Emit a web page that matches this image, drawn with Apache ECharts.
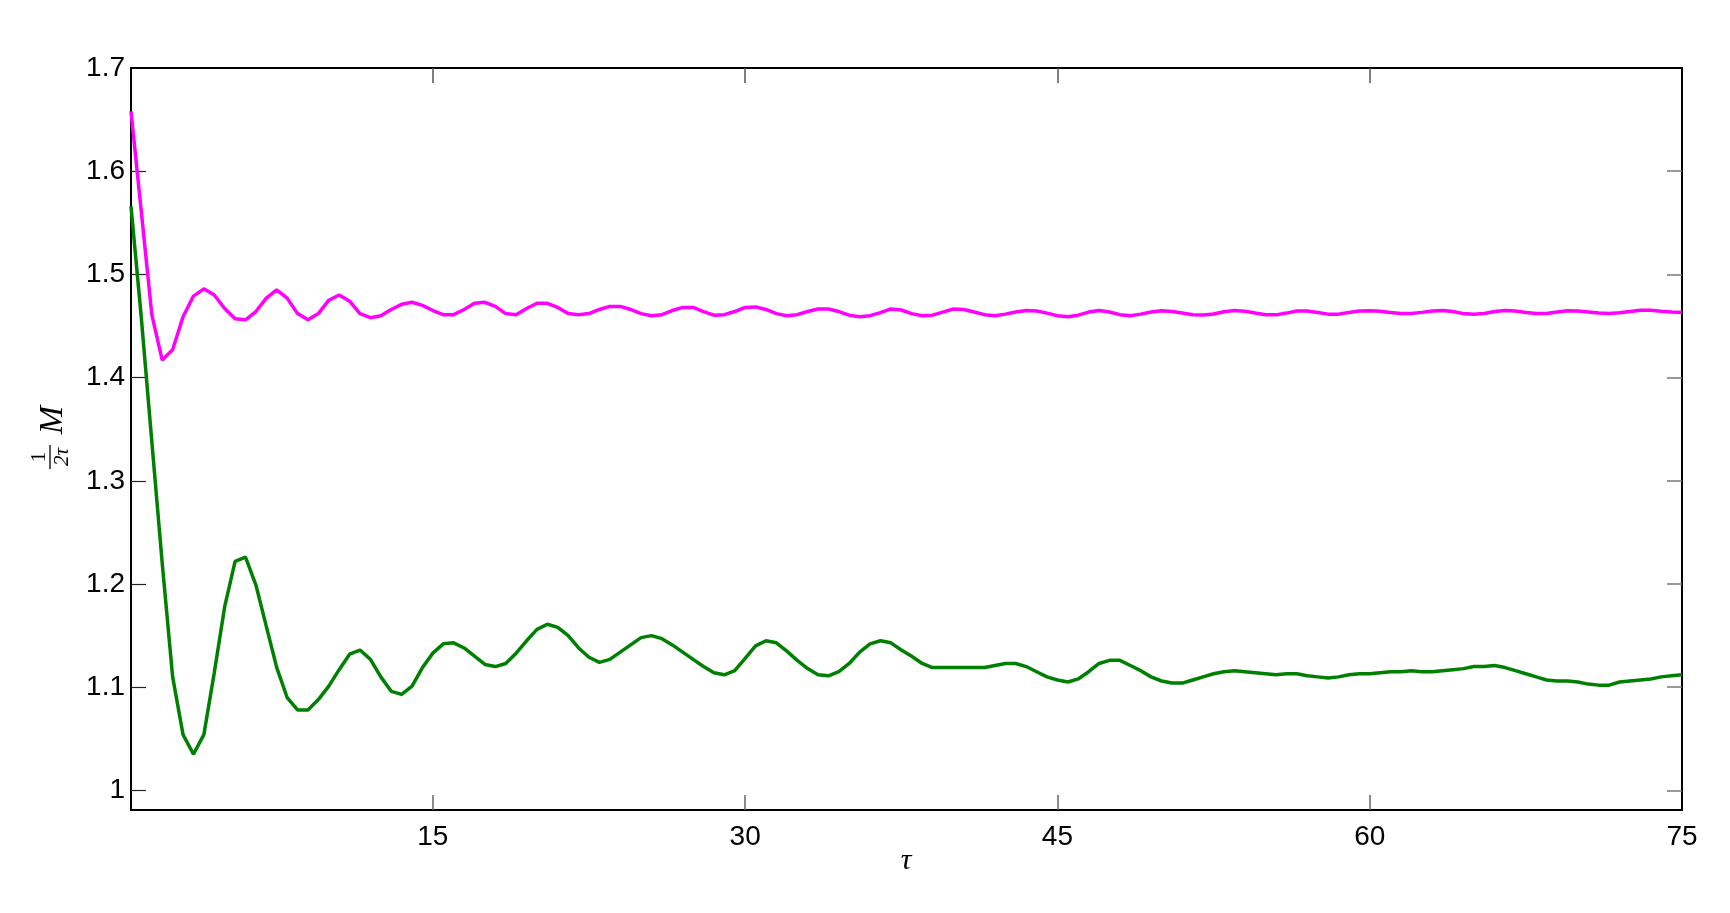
<!DOCTYPE html>
<html>
<head>
<meta charset="utf-8">
<script src="https://cdn.jsdelivr.net/npm/echarts@6/dist/echarts.min.js"></script>
<style>
html,body{margin:0;padding:0;background:#fff;}
#c{width:1730px;height:913px;}
</style>
</head>
<body>
<div id="c"></div>
<script>
// tau values (x)
const tau = [
 0.5,1,1.5,2,2.5,3,3.5,4,4.5,5,5.5,6,6.5,7,7.5,8,8.5,9,9.5,10,
 10.5,11,11.5,12,12.5,13,13.5,14,14.5,15,15.5,16,16.5,17,17.5,18,18.5,19,19.5,20,
 20.5,21,21.5,22,22.5,23,23.5,24,24.5,25,25.5,26,26.5,27,27.5,28,28.5,29,29.5,30,
 30.5,31,31.5,32,32.5,33,33.5,34,34.5,35,35.5,36,36.5,37,37.5,38,38.5,39,39.5,40,
 40.5,41,41.5,42,42.5,43,43.5,44,44.5,45,45.5,46,46.5,47,47.5,48,48.5,49,49.5,50,
 50.5,51,51.5,52,52.5,53,53.5,54,54.5,55,55.5,56,56.5,57,57.5,58,58.5,59,59.5,60,
 60.5,61,61.5,62,62.5,63,63.5,64,64.5,65,65.5,66,66.5,67,67.5,68,68.5,69,69.5,70,
 70.5,71,71.5,72,72.5,73,73.5,74,74.5,75
];
// magenta series
const magenta = [
 1.658,1.560,1.461,1.417,1.427,1.459,1.479,1.486,1.480,1.467,1.457,1.456,1.464,1.477,1.485,1.477,1.462,1.456,1.462,1.475,
 1.480,1.474,1.462,1.458,1.460,1.466,1.471,1.473,1.470,1.465,1.461,1.461,1.466,1.472,1.473,1.469,1.462,1.461,1.467,1.472,
 1.472,1.468,1.462,1.461,1.462,1.466,1.469,1.469,1.466,1.462,1.460,1.461,1.465,1.468,1.468,1.464,1.4605,1.461,1.464,1.468,
 1.4685,1.466,1.462,1.460,1.461,1.464,1.4665,1.4665,1.464,1.4605,1.459,1.460,1.463,1.4665,1.4655,1.462,1.460,1.4605,1.4635,1.4665,
 1.466,1.4635,1.461,1.460,1.4615,1.4635,1.465,1.4645,1.4625,1.460,1.459,1.4605,1.4635,1.465,1.4635,1.461,1.460,1.4615,1.4635,1.4648,
 1.464,1.4625,1.461,1.4606,1.4617,1.4638,1.465,1.4642,1.4625,1.461,1.4608,1.4625,1.4645,1.4645,1.463,1.4615,1.4615,1.463,1.4645,1.4648,
 1.4642,1.463,1.462,1.4622,1.4632,1.4645,1.465,1.464,1.462,1.4613,1.4622,1.464,1.465,1.4645,1.463,1.462,1.4622,1.4635,1.4648,1.4645,
 1.4635,1.4625,1.462,1.4628,1.464,1.4653,1.4652,1.4643,1.4635,1.463
];
// green series
const green = [
 1.566,1.457,1.338,1.220,1.110,1.054,1.035,1.054,1.114,1.178,1.222,1.226,1.199,1.159,1.119,1.090,1.078,1.078,1.088,1.101,
 1.117,1.132,1.136,1.127,1.110,1.096,1.093,1.101,1.119,1.133,1.142,1.143,1.138,1.130,1.122,1.120,1.123,1.133,1.145,1.156,
 1.161,1.158,1.150,1.138,1.129,1.124,1.127,1.134,1.141,1.148,1.150,1.147,1.141,1.134,1.127,1.120,1.114,1.112,1.116,1.128,
 1.140,1.145,1.143,1.135,1.126,1.118,1.112,1.111,1.115,1.123,1.134,1.142,1.145,1.143,1.136,1.130,1.123,1.119,1.119,1.119,
 1.119,1.119,1.119,1.121,1.123,1.123,1.120,1.115,1.110,1.107,1.105,1.108,1.115,1.123,1.126,1.126,1.121,1.116,1.110,1.106,
 1.104,1.104,1.107,1.110,1.113,1.115,1.116,1.115,1.114,1.113,1.112,1.113,1.113,1.111,1.110,1.109,1.110,1.112,1.113,1.113,
 1.114,1.115,1.115,1.116,1.115,1.115,1.116,1.117,1.118,1.120,1.120,1.121,1.119,1.116,1.113,1.110,1.107,1.106,1.106,1.105,
 1.103,1.102,1.102,1.105,1.106,1.107,1.108,1.110,1.111,1.112
];
// tick labels
const xTicks = [15, 30, 45, 60, 75];
const yTicks = [1, 1.1, 1.2, 1.3, 1.4, 1.5, 1.6, 1.7];

const magentaData = tau.map((t, i) => [t, magenta[i]]);
const greenData = tau.map((t, i) => [t, green[i]]);

const chart = echarts.init(document.getElementById('c'), null, {renderer: 'canvas'});
const labelFont = {fontFamily: '"Liberation Sans", Arial, sans-serif', fontSize: 28, color: '#000'};
const frameLine = {show: true, onZero: false, lineStyle: {color: '#000', width: 2}};
const innerTicksX = xTicks.filter(v => v < 75);
const innerTicksY = yTicks.filter(v => v < 1.7);
const serif = '"Liberation Serif", "DejaVu Serif", serif';

chart.setOption({
  animation: false,
  backgroundColor: '#fff',
  grid: {left: 131, right: 48, top: 68, bottom: 103, containLabel: false},
  xAxis: [
    {type: 'value', min: 0.5, max: 75, position: 'bottom',
     axisLine: frameLine,
     axisTick: {show: true, inside: true, length: 15, customValues: innerTicksX, lineStyle: {color: '#666', width: 1.5}},
     axisLabel: Object.assign({show: true, margin: 13, customValues: xTicks}, labelFont),
     splitLine: {show: false}},
    {type: 'value', min: 0.5, max: 75, position: 'top',
     axisLine: frameLine,
     axisTick: {show: true, inside: true, length: 15, customValues: innerTicksX, lineStyle: {color: '#555', width: 1.5}},
     axisLabel: {show: false},
     splitLine: {show: false}}
  ],
  yAxis: [
    {type: 'value', min: 0.981, max: 1.7, position: 'left',
     axisLine: frameLine,
     axisTick: {show: true, inside: true, length: 15, customValues: innerTicksY, lineStyle: {color: '#222', width: 1.2}},
     axisLabel: Object.assign({show: true, margin: 6, customValues: yTicks}, labelFont),
     splitLine: {show: false}},
    {type: 'value', min: 0.981, max: 1.7, position: 'right',
     axisLine: frameLine,
     axisTick: {show: true, inside: true, length: 15, customValues: innerTicksY, lineStyle: {color: '#777', width: 1.5}},
     axisLabel: {show: false},
     splitLine: {show: false}}
  ],
  series: [
    {type: 'line', name: 'magenta', data: magentaData, xAxisIndex: 0, yAxisIndex: 0,
     showSymbol: false, symbol: 'none', smooth: false,
     lineStyle: {color: '#ff00ff', width: 3.5}, itemStyle: {color: '#ff00ff'}, z: 2},
    {type: 'line', name: 'green', data: greenData, xAxisIndex: 0, yAxisIndex: 0,
     showSymbol: false, symbol: 'none', smooth: false,
     lineStyle: {color: '#008000', width: 3.5}, itemStyle: {color: '#008000'}, z: 3}
  ],
  graphic: [
    {type: 'text', x: 906, y: 861,
     style: {text: 'τ', font: 'italic 30px ' + serif, fill: '#000',
             align: 'center', verticalAlign: 'middle'}},
    {type: 'group', x: 52, y: 437, rotation: Math.PI / 2,
     children: [
       {type: 'text', x: -20, y: -13,
        style: {text: '1', font: '21px ' + serif, fill: '#000', align: 'center', verticalAlign: 'middle'}},
       {type: 'line', shape: {x1: -32, y1: -2, x2: -8, y2: -2}, style: {stroke: '#000', lineWidth: 1.3}},
       {type: 'text', x: -20, y: 10,
        style: {text: '2τ', font: 'italic 21px ' + serif, fill: '#000', align: 'center', verticalAlign: 'middle'}},
       {type: 'text', x: 17, y: 1.5,
        style: {text: 'M', font: 'italic 34px ' + serif, fill: '#000', align: 'center', verticalAlign: 'middle'}}
     ]}
  ]
});
</script>
</body>
</html>
